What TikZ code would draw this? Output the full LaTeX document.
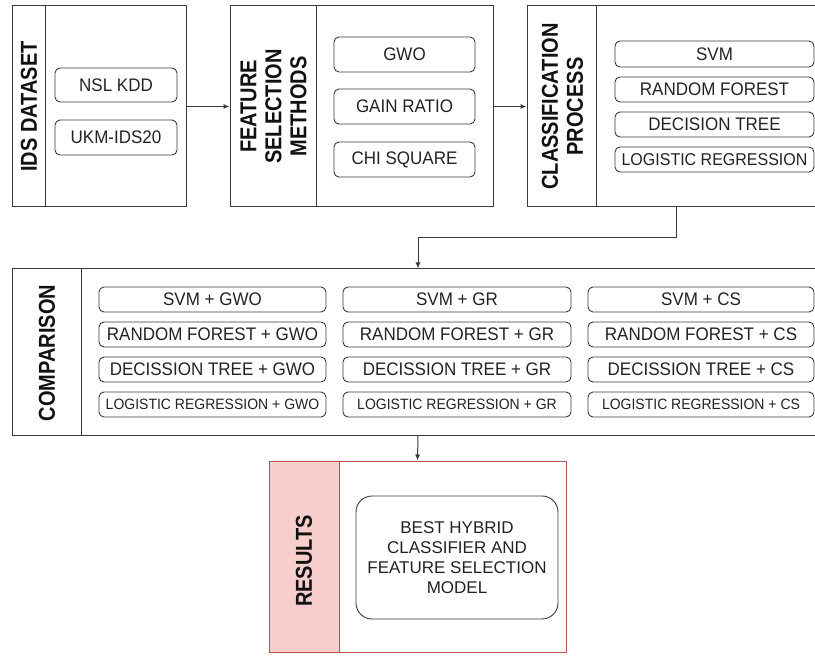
\documentclass[tikz,border=0pt]{standalone}
\usepackage{fontspec}
\setmainfont{Liberation Sans}
\usetikzlibrary{arrows.meta}
\definecolor{linec}{HTML}{3A3A3A}
\definecolor{txtc}{HTML}{222222}
\definecolor{hdrc}{HTML}{111111}
\definecolor{resfill}{HTML}{F8CECC}
\definecolor{resline}{HTML}{B85450}
\newcommand{\tallT}[1]{\scalebox{1}[1.07]{#1}}
\begin{document}
\begin{tikzpicture}[x=1pt,y=-1pt,
  container/.style={draw=linec, line width=1pt, inner sep=0pt},
  header/.style={rotate=90, yscale=1.15, font=\fontsize{20}{21.7}\selectfont\bfseries, text=hdrc, align=center, inner sep=0pt},
  item/.style={draw=linec, line width=0.9pt, rounded corners=5pt, inner sep=0pt,
    font=\fontsize{17}{20}\selectfont, text=txtc},
  smallitem/.style={item, font=\fontsize{14}{17}\selectfont},
  arr/.style={draw=linec, line width=1pt, -{Latex[length=6pt,width=5pt]}}
]
\path[use as bounding box] (0,0) rectangle (815,663);
\clip (0,0) rectangle (815,663);

% ---------- IDS DATASET ----------
\node[container, minimum width=174pt, minimum height=201pt] (c1) at (99,106.5) {};
\draw[container] ([xshift=34pt]c1.north west) -- ([xshift=34pt]c1.south west);
\node[header] (h1) at (29,106.5) {IDS DATASET};
\node[item, minimum width=122pt, minimum height=34pt] (nsl) at (116,85) {\tallT{NSL KDD}};
\node[item, minimum width=122pt, minimum height=35pt] (ukm) at (116,137.5) {\tallT{UKM-IDS20}};

% ---------- FEATURE SELECTION ----------
\node[container, minimum width=263pt, minimum height=201pt] (c2) at (361.5,106.5) {};
\draw[container] ([xshift=87pt]c2.north west) -- ([xshift=87pt]c2.south west);
\node[header] (h2) at (273.5,106.5) {FEATURE\\SELECTION\\METHODS};
\node[item, minimum width=141pt, minimum height=35pt] (gwo) at (404.5,54.5) {\tallT{GWO}};
\node[item, minimum width=141pt, minimum height=35pt] (gr) at (404.5,106.5) {\tallT{GAIN RATIO}};
\node[item, minimum width=141pt, minimum height=35pt] (cs) at (404.5,159.5) {\tallT{CHI SQUARE}};

% ---------- CLASSIFICATION ----------
\node[container, minimum width=298pt, minimum height=201pt] (c3) at (676,106.5) {};
\draw[container] ([xshift=70pt]c3.north west) -- ([xshift=70pt]c3.south west);
\node[header] (h3) at (562.5,106.5) {CLASSIFICATION\\PROCESS};
\node[item, minimum width=199pt, minimum height=26pt] (svm) at (714.5,54) {\tallT{SVM}};
\node[item, minimum width=199pt, minimum height=25pt] (rf) at (714.5,89.5) {\tallT{RANDOM FOREST}};
\node[item, minimum width=199pt, minimum height=25pt] (dt) at (714.5,124.5) {\tallT{DECISION TREE}};
\node[item, minimum width=199pt, minimum height=25pt, font=\fontsize{16}{19}\selectfont] (lr) at (714.5,159.5) {\tallT{LOGISTIC REGRESSION}};

% ---------- COMPARISON ----------
\node[container, minimum width=812pt, minimum height=166pt] (comp) at (418,352) {};
\draw[container] ([xshift=70pt]comp.north west) -- ([xshift=70pt]comp.south west);
\node[header] (h4) at (47,353) {COMPARISON};

\node[item, minimum width=227pt, minimum height=25pt] (a1) at (212.5,299.5) {\tallT{SVM + GWO}};
\node[item, minimum width=227pt, minimum height=25pt] (a2) at (212.5,334.5) {\tallT{RANDOM FOREST + GWO}};
\node[item, minimum width=227pt, minimum height=25pt] (a3) at (212.5,369.5) {\tallT{DECISSION TREE + GWO}};
\node[smallitem, minimum width=227pt, minimum height=25pt] (a4) at (212.5,404.5) {\tallT{LOGISTIC REGRESSION + GWO}};

\node[item, minimum width=228pt, minimum height=25pt] (b1) at (457,299.5) {\tallT{SVM + GR}};
\node[item, minimum width=228pt, minimum height=25pt] (b2) at (457,334.5) {\tallT{RANDOM FOREST + GR}};
\node[item, minimum width=228pt, minimum height=25pt] (b3) at (457,369.5) {\tallT{DECISSION TREE + GR}};
\node[smallitem, minimum width=228pt, minimum height=25pt] (b4) at (457,404.5) {\tallT{LOGISTIC REGRESSION + GR}};

\node[item, minimum width=226pt, minimum height=25pt] (d1) at (701,299.5) {\tallT{SVM + CS}};
\node[item, minimum width=226pt, minimum height=25pt] (d2) at (701,334.5) {\tallT{RANDOM FOREST + CS}};
\node[item, minimum width=226pt, minimum height=25pt] (d3) at (701,369.5) {\tallT{DECISSION TREE + CS}};
\node[smallitem, minimum width=226pt, minimum height=25pt] (d4) at (701,404.5) {\tallT{LOGISTIC REGRESSION + CS}};

% ---------- RESULTS ----------
\node[fill=resfill, draw=resline, line width=1pt, inner sep=0pt, minimum width=70pt, minimum height=191pt] (rstrip) at (304,556.5) {};
\node[draw=resline, line width=1pt, inner sep=0pt, minimum width=297pt, minimum height=191pt] (res) at (417.5,556.5) {};
\node[header] (h5) at (304,561) {RESULTS};
\node[draw=linec, line width=0.9pt, rounded corners=16pt, inner sep=0pt, minimum width=202pt, minimum height=123pt,
  align=center, font=\fontsize{17}{20}\selectfont, text=txtc] (best) at (457,557.5)
  {BEST HYBRID\\CLASSIFIER AND\\FEATURE SELECTION\\MODEL};

% ---------- connectors ----------
\draw[arr] (c1.east) -- (c2.west);
\draw[arr] (c2.east) -- (c3.west);
\coordinate (k) at (676,238);
\draw[arr] (c3.south) -- (k) -| (comp.north);
\draw[arr] (comp.south) -- (res.north);
\end{tikzpicture}
\end{document}
